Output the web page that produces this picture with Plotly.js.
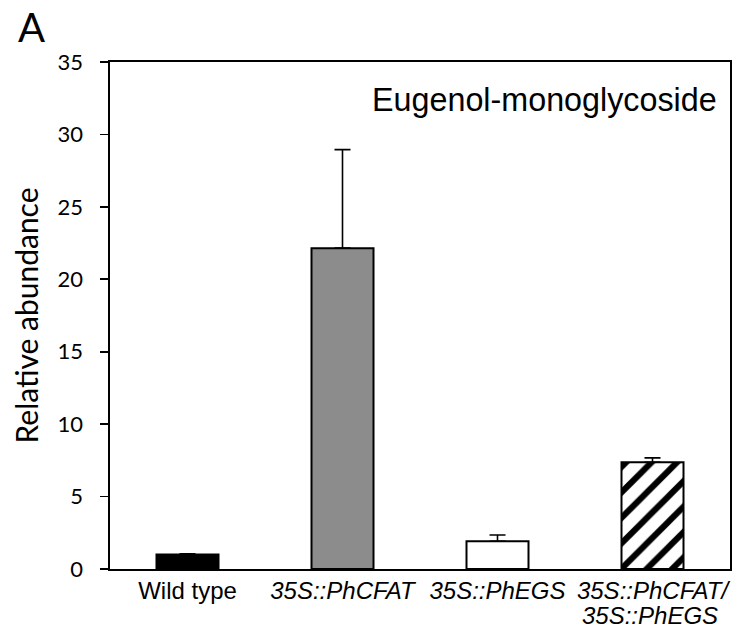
<!DOCTYPE html>
<html>
<head>
<meta charset="utf-8">
<script src="https://cdn.plot.ly/plotly-3.0.1.min.js"></script>
<style>html,body{margin:0;padding:0;background:#fff;}#chart{width:738px;height:631px;}</style>
</head>
<body>
<div id="chart"></div>
<script>
const categories = ["Wild type", "<i>35S::PhCFAT</i>", "<i>35S::PhEGS</i>", "<i>35S::PhCFAT/</i>"];
const categorySecondLines = ["", "", "", "<i>35S::PhEGS</i>"];
const values = [1.0, 22.15, 1.92, 7.37];
const errors = [0.05, 6.8, 0.43, 0.3];
const fillColors = ["#000000", "#8c8c8c", "#ffffff", "#000000"];
const patterns = ["", "", "", "/"];
const yTicks = [0, 5, 10, 15, 20, 25, 30, 35];

const trace = {
  type: "bar",
  x: categories,
  y: values,
  width: 0.4,
  marker: {
    color: fillColors,
    line: {color: "#000000", width: 2},
    pattern: {shape: patterns, bgcolor: "#ffffff", fgopacity: 1, size: 18, solidity: 0.34, fillmode: "replace"}
  },
  error_y: {
    type: "data",
    symmetric: false,
    array: errors,
    arrayminus: [0, 0, 0, 0],
    color: "#000000",
    thickness: 1.6,
    width: 8
  },
  hoverinfo: "none"
};

const labelFont = {family: "Liberation Sans, Arial, sans-serif", size: 24, color: "#000000"};

const annotations = [
  {text: "A", xref: "paper", yref: "paper", x: -0.152, y: 1.07, xanchor: "left", yanchor: "middle", showarrow: false,
   font: {family: "Lato, Open Sans, sans-serif", size: 40, color: "#000000"}},
  {text: "Eugenol-monoglycoside", xref: "paper", yref: "paper", x: 0.983, y: 0.925, xanchor: "right", yanchor: "middle", showarrow: false,
   font: {family: "Liberation Sans, Arial, sans-serif", size: 32.3, color: "#000000"}}
];
categorySecondLines.forEach(function (t, i) {
  if (t) {
    annotations.push({text: t, xref: "x", yref: "paper", x: categories[i], y: 0, xanchor: "center", yanchor: "middle",
      yshift: -46, xshift: -3, showarrow: false, font: labelFont});
  }
});

const layout = {
  width: 738,
  height: 631,
  margin: {l: 110, r: 8, t: 62, b: 62},
  paper_bgcolor: "#ffffff",
  plot_bgcolor: "#ffffff",
  showlegend: false,
  xaxis: {
    showline: true, mirror: true, linecolor: "#000000", linewidth: 1.6,
    ticks: "", showgrid: false, zeroline: false,
    tickfont: labelFont,
    ticklabelstandoff: 0
  },
  yaxis: {
    range: [0, 35],
    tickvals: yTicks,
    ticktext: yTicks.map(String),
    showline: true, mirror: true, linecolor: "#000000", linewidth: 1.6,
    ticks: "outside", ticklen: 8, tickwidth: 1.6, tickcolor: "#000000",
    showgrid: false, zeroline: false,
    tickfont: {family: "Lato, Open Sans, sans-serif", size: 22, color: "#000000"},
    ticklabelstandoff: 13,
    title: {text: "Relative abundance", font: {family: "Lato, Open Sans, sans-serif", size: 30, color: "#000000"}, standoff: 10}
  },
  annotations: annotations
};

Plotly.newPlot("chart", [trace], layout, {displayModeBar: false, staticPlot: true});
</script>
</body>
</html>
